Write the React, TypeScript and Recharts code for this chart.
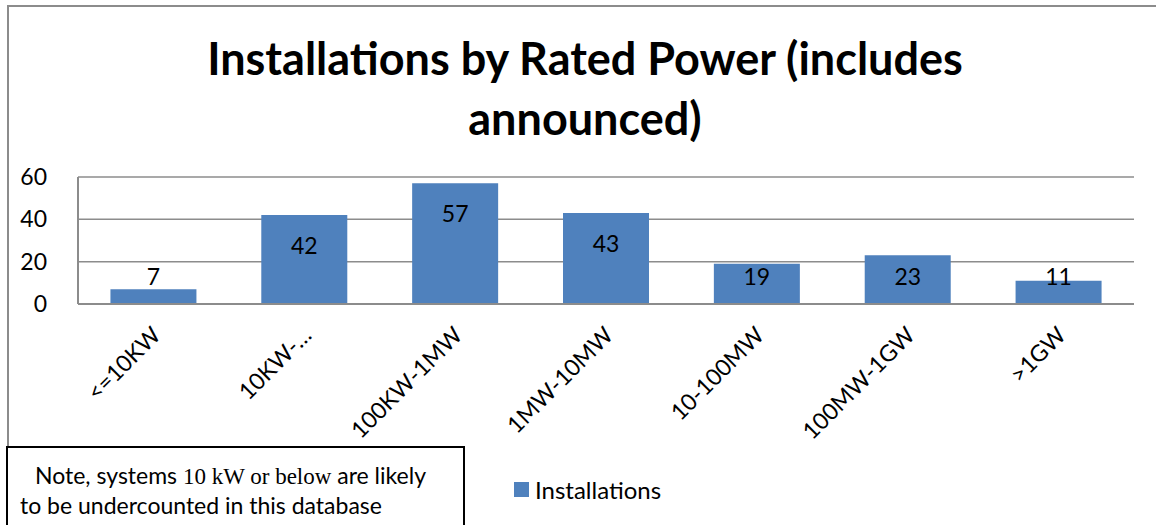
import React from 'react';
import { BarChart, Bar, XAxis, YAxis, CartesianGrid, LabelList } from 'recharts';

const categories = ['<=10KW', '10KW-…', '100KW-1MW', '1MW-10MW', '10-100MW', '100MW-1GW', '>1GW'];
const installations = [7, 42, 57, 43, 19, 23, 11];
const yTicks = [0, 20, 40, 60];

const data = categories.map((name, i) => ({ name, Installations: installations[i] }));

const FONT = 'Lato, "Open Sans", sans-serif';
const BAR_COLOR = '#4F81BD';
const GRID = '#8c8c8c';

// rotated category label, right end sits under the tick
const AngledTick = (props: any) => {
  const { x, y, payload } = props;
  return (
    <g transform={`translate(${x + 3},${y + 19})`}>
      <text
        transform="rotate(-45)"
        textAnchor="end"
        dy="0.35em"
        fill="#000"
        fontSize={23}
        fontFamily={FONT}
      >
        {payload.value}
      </text>
    </g>
  );
};

// excel style "inside end", but kept above the baseline for short bars
const BarValue = (props: any) => {
  const { x, y, width, height, value } = props;
  const cy = Math.min(y + 30, y + height - 28);
  return (
    <text
      x={x + width / 2}
      y={cy}
      textAnchor="middle"
      dominantBaseline="central"
      fill="#000"
      fontSize={23}
      fontFamily={FONT}
    >
      {value}
    </text>
  );
};

export default function App() {
  return (
    <div
      style={{
        position: 'absolute',
        left: 0,
        top: 0,
        width: 1156,
        height: 525,
        overflow: 'hidden',
        background: '#fff',
      }}
    >
      <div
        style={{
          position: 'absolute',
          left: 7,
          top: 5,
          width: 1160,
          height: 540,
          borderTop: '2px solid #8c8c8c',
          borderLeft: '2px solid #8c8c8c',
        }}
      />
      <div
        style={{
          position: 'absolute',
          left: 0,
          top: 28,
          width: 1170,
          textAlign: 'center',
          fontFamily: FONT,
          fontWeight: 700,
          fontSize: 45,
          lineHeight: '60px',
          color: '#000',
        }}
      >
        Installations by Rated Power (includes
        <br />
        announced)
      </div>
      <div style={{ position: 'absolute', left: 0, top: 0 }}>
        <BarChart
          width={1156}
          height={525}
          data={data}
          margin={{ top: 177, right: 22, bottom: 0, left: 0 }}
          barCategoryGap="21.5%"
        >
          <CartesianGrid vertical={false} stroke={GRID} strokeWidth={1.5} />
          <XAxis
            dataKey="name"
            height={221}
            interval={0}
            tick={<AngledTick />}
            tickLine={false}
            axisLine={{ stroke: GRID, strokeWidth: 2 }}
          />
          <YAxis
            width={78}
            domain={[0, 60]}
            ticks={yTicks}
            tickLine={false}
            axisLine={{ stroke: GRID, strokeWidth: 2 }}
            tick={{ fill: '#000', fontSize: 23, fontFamily: FONT }}
            tickMargin={25}
          />
          <Bar dataKey="Installations" fill={BAR_COLOR} isAnimationActive={false}>
            <LabelList dataKey="Installations" content={<BarValue />} />
          </Bar>
        </BarChart>
      </div>
      <div
        style={{
          position: 'absolute',
          left: 514,
          top: 475,
          display: 'flex',
          alignItems: 'center',
          fontFamily: FONT,
          fontSize: 24,
          color: '#000',
        }}
      >
        <span style={{ width: 15, height: 15, background: BAR_COLOR, display: 'inline-block', marginRight: 6 }} />
        Installations
      </div>
      <div
        style={{
          position: 'absolute',
          left: 6,
          top: 446,
          width: 459,
          height: 100,
          border: '2px solid #000',
          background: '#fff',
          fontFamily: FONT,
          fontSize: 23,
          lineHeight: '28px',
          color: '#000',
          paddingTop: 13,
          paddingLeft: 12,
          boxSizing: 'border-box',
        }}
      >
        <div style={{ paddingLeft: 15 }}>
          Note, systems{' '}
          <span style={{ fontFamily: '"Liberation Serif", serif', fontSize: 23 }}>10 kW or below</span> are likely
        </div>
        <div>to be undercounted in this database</div>
      </div>
    </div>
  );
}
